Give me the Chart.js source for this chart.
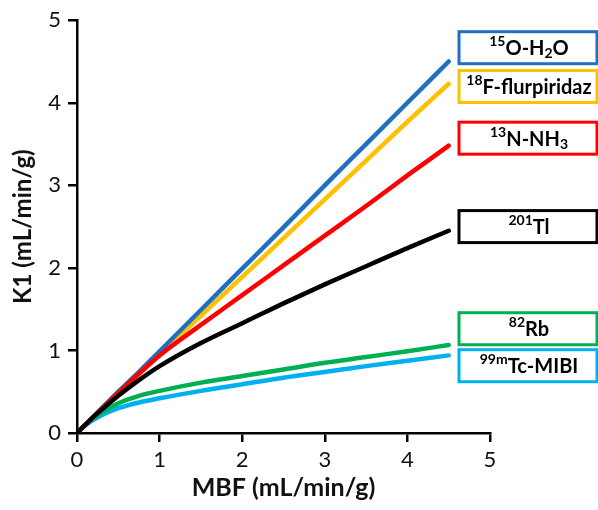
<!DOCTYPE html>
<html>
<head>
<meta charset="utf-8">
<script src="https://cdn.jsdelivr.net/npm/chart.js@4.4.0/dist/chart.umd.min.js"></script>
<style>
  html, body { margin: 0; padding: 0; background: #fff; }
  #wrap { width: 598px; height: 510px; position: relative; }
</style>
</head>
<body>
<div id="wrap"><canvas id="c" width="598" height="510"></canvas></div>
<script>
// ---- data ----
const mbf   = [0, 0.1, 0.25, 0.5, 0.75, 1, 1.5, 2, 2.5, 3, 3.5, 4, 4.5];
const water = [0, 0.1, 0.25, 0.5, 0.74, 0.99, 1.49, 1.99, 2.49, 3.0, 3.5, 4.0, 4.5];
const flurp = [0, 0.1, 0.24, 0.48, 0.71, 0.95, 1.42, 1.89, 2.36, 2.83, 3.30, 3.77, 4.23];
const nh3   = [0, 0.1, 0.245, 0.485, 0.72, 0.94, 1.31, 1.67, 2.03, 2.39, 2.75, 3.12, 3.48];
const tl    = [0, 0.1, 0.24, 0.45, 0.64, 0.81, 1.09, 1.33, 1.57, 1.80, 2.02, 2.24, 2.45];
const rb    = [0, 0.1, 0.22, 0.36, 0.45, 0.51, 0.61, 0.69, 0.77, 0.85, 0.92, 0.99, 1.065];
const mibi  = [0, 0.09, 0.19, 0.30, 0.37, 0.42, 0.51, 0.59, 0.67, 0.74, 0.81, 0.875, 0.94];
const xTicks = [0, 1, 2, 3, 4, 5];
const yTicks = [0, 1, 2, 3, 4, 5];

// label parts: [text, kind] kind: 'n' normal, 'sup', 'sub'
const labels = [
  [['15','sup'],['O-H','n'],['2','sub'],['O','n']],
  [['18','sup'],['F-flurpiridaz','n']],
  [['13','sup'],['N-NH','n'],['3','sub']],
  [['201','sup'],['Tl','n']],
  [['82','sup'],['Rb','n']],
  [['99m','sup'],['Tc-MIBI','n']]
];
const seriesValues = [water, flurp, nh3, tl, rb, mibi];
const colors = ['#1F70C1', '#FFC000', '#FF0000', '#000000', '#00B050', '#00B0F0'];
const drawOrder = [2, 3, 1, 0, 4, 5];
// label box vertical centres, in K1 units
const labelY = [4.667, 4.197, 3.571, 2.50, 1.263, 0.815];

const datasets = seriesValues.map((vals, i) => ({
  data: mbf.map((x, j) => ({x: x, y: vals[j]})),
  borderColor: colors[i],
  borderWidth: 4.5,
  borderCapStyle: 'round',
  pointRadius: 0,
  fill: false,
  cubicInterpolationMode: 'monotone',
  order: drawOrder[i]
}));

const labelPlugin = {
  id: 'labelBoxes',
  afterDraw(chart) {
    const ctx = chart.ctx;
    const ys = chart.scales.y;
    const area = chart.chartArea;
    const boxLeft = area.right - 31;
    const boxW = 138, boxH = 32;
    labels.forEach((parts, i) => {
      const cy = ys.getPixelForValue(labelY[i]);
      ctx.save();
      ctx.fillStyle = '#fff';
      ctx.fillRect(boxLeft, cy - boxH/2, boxW, boxH);
      ctx.strokeStyle = colors[i];
      ctx.lineWidth = 3;
      ctx.strokeRect(boxLeft, cy - boxH/2, boxW, boxH);
      const fonts = { n: 'bold 20px Lato', sup: 'bold 14px Lato', sub: 'bold 14px Lato' };
      const offs = { n: 0, sup: -7, sub: 5 };
      let total = 0;
      parts.forEach(p => { ctx.font = fonts[p[1]]; total += ctx.measureText(p[0]).width; });
      let x = boxLeft + boxW/2 - total/2 + 1;
      ctx.fillStyle = '#000';
      ctx.textBaseline = 'middle';
      ctx.textAlign = 'left';
      parts.forEach(p => {
        ctx.font = fonts[p[1]];
        ctx.fillText(p[0], x, cy + 1 + offs[p[1]]);
        x += ctx.measureText(p[0]).width;
      });
      ctx.restore();
    });
  }
};

new Chart(document.getElementById('c'), {
  type: 'line',
  data: { datasets },
  plugins: [labelPlugin],
  options: {
    responsive: false,
    animation: false,
    events: [],
    layout: { padding: { top: 20, right: 108, left: 0, bottom: 0 } },
    plugins: { legend: { display: false }, tooltip: { enabled: false } },
    scales: {
      x: {
        type: 'linear',
        min: 0, max: 5,
        afterBuildTicks(s) { s.ticks = xTicks.map(v => ({value: v})); },
        afterFit(s) { s.height = 77; },
        border: { color: '#000', width: 2.5 },
        grid: { drawOnChartArea: false, drawTicks: true, tickLength: 9, color: '#000', lineWidth: 2.5 },
        ticks: { color: '#111', font: { family: 'Lato', size: 22 }, padding: 5, maxRotation: 0 },
        title: { display: true, text: 'MBF (mL/min/g)', color: '#111', font: { family: 'Lato', size: 25, weight: 'bold' }, padding: { top: 0, bottom: 7 } }
      },
      y: {
        type: 'linear',
        min: 0, max: 5,
        afterBuildTicks(s) { s.ticks = yTicks.map(v => ({value: v})); },
        afterFit(s) { s.width = 77; },
        border: { color: '#000', width: 2.5 },
        grid: { drawOnChartArea: false, drawTicks: true, tickLength: 9, color: '#000', lineWidth: 2.5 },
        ticks: { color: '#111', font: { family: 'Lato', size: 22 }, padding: 7 },
        title: { display: true, text: 'K1 (mL/min/g)', color: '#111', font: { family: 'Lato', size: 24, weight: 'bold' }, padding: { top: 9, bottom: 0 } }
      }
    }
  }
});
</script>
</body>
</html>
